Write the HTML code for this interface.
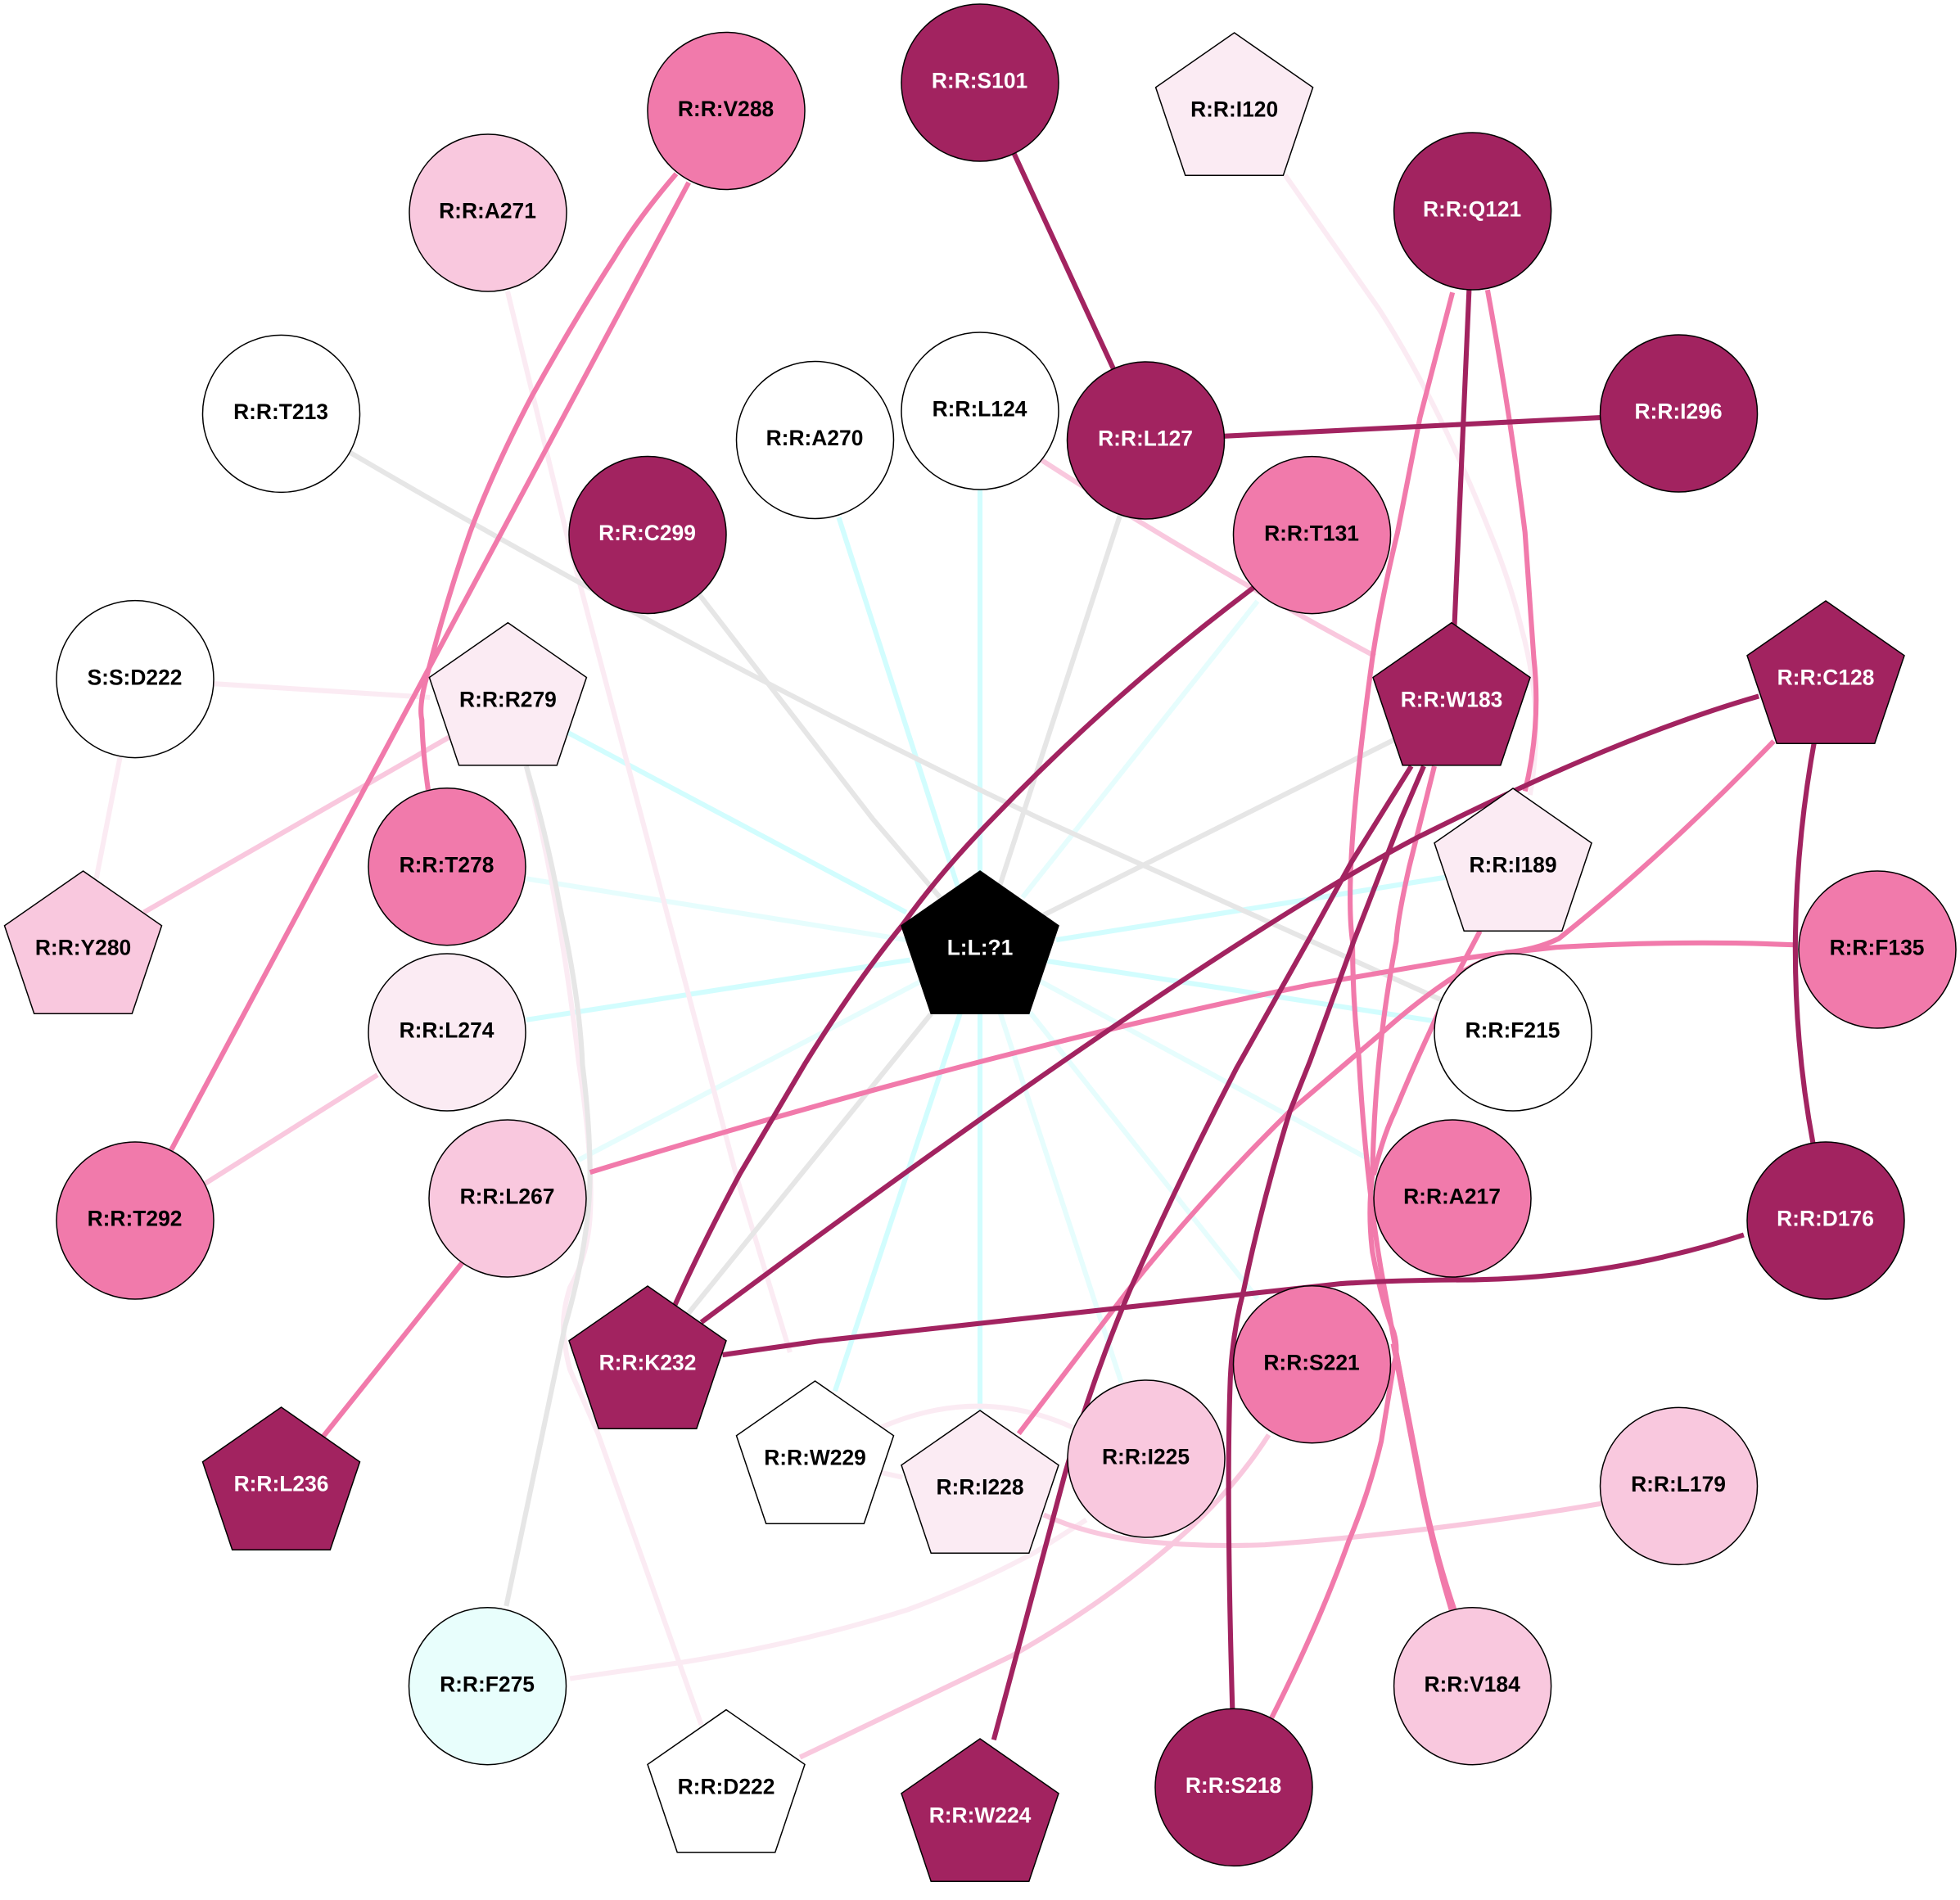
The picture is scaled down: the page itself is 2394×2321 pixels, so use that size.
<!DOCTYPE html>
<html><head><meta charset="utf-8"><style>
html,body{margin:0;padding:0;background:#fff}
svg{display:block}
text{font-family:"Liberation Sans",sans-serif;font-weight:bold;font-size:26.4px;text-anchor:middle;fill:#000}
text.w{fill:#fff}
.n circle,.n polygon{stroke:#000;stroke-width:1.5}
.d{fill:#a22360}.m{fill:#f17aab}.l{fill:#f9c8de}.p{fill:#fbebf3}.o{fill:#fff}.c{fill:#e8fefc}.k{fill:#000}
.e path{fill:none;stroke-width:4;stroke-linejoin:round}
.cy path{stroke:#d2fdfe}.cl path{stroke:#e6fdfd}.gp path{stroke:#fbebf3}.gl path{stroke:#f9c8de}.gg path{stroke:#e6e6e6}.gm path{stroke:#f17aab}.gd path{stroke:#a22360}
</style></head><body>
<svg width="2394" height="2321" viewBox="0 0 2394 2321" xmlns="http://www.w3.org/2000/svg">
<rect width="2394" height="2321" fill="#fff"/>
<g class="e" transform="scale(1.5268)">
<g class="cl">
<path d="M1006,481L818,718"/><path d="M421,703L725,752"/><path d="M463,928L737,785"/><path d="M832,785L1100,930"/><path d="M824,810L1006,1039"/><path d="M800,810L897,1106"/>
</g>
<g class="cy">
<path d="M671,414L767,712"/><path d="M784,392L784,720"/><path d="M454,586L725,730"/><path d="M421,816L728,768"/><path d="M1156,702L845,752"/><path d="M1148,817L838,769"/><path d="M784,810L784,1128"/><path d="M768,811L668,1113"/>
</g>
<g class="gp">
<path d="M171,547L344,558"/><path d="M96,606L77,703"/>
<path d="M1028,140L1103,247Q1150,320 1192,426Q1208,465 1217,502Q1236,570 1224,636"/>
<path d="M406,233L453,426L590,944L632,1082"/>
<path d="M421,613Q448,720 463,850Q475,930 472,974Q470,1005 456,1030Q448,1055 452,1075Q453,1085 456,1096L478,1146L561,1380"/>
<path d="M705,1142Q783,1108 858,1142"/>
<path d="M704,1178L722,1182"/>
<path d="M869,1216L828,1242Q780,1268 726,1288Q640,1315 546,1330L456,1343"/>
</g>
<g class="gl">
<path d="M833,368Q960,450 1100,525"/><path d="M359,590L115,730"/><path d="M302,860L164,947"/>
<path d="M1015,1148Q985,1195 937,1236Q880,1285 809,1325Q725,1365 640,1406"/>
<path d="M1281,1203Q1146,1226 1012,1236Q960,1238 914,1233Q870,1228 835,1212"/>
</g>
<g class="gg">
<path d="M280,362Q430,450 590,534Q710,597 832,655L1153,800"/>
<path d="M555,470L698,655L752,718"/><path d="M900,400L800,708"/><path d="M1115,592L835,732"/><path d="M745,811L540,1064"/>
<path d="M421,613Q438,670 448,726Q464,800 466,852Q472,900 472,939Q472,960 469,982Q464,1020 452,1061L405,1285"/>
</g>
<g class="gm">
<path d="M541,139Q510,175 491,207Q460,255 426,316Q395,375 376,426Q357,480 341,543Q335,565 337.500,576Q338,600 342.500,632"/>
<path d="M551,146L137,920"/>
<path d="M370,1010L258,1150"/>
<path d="M1436,756Q1346,752 1244,758Q1205,762 1170,767L1048,788C900,818 700,868 472,938"/>
<path d="M1419,593Q1330,685 1247,751Q1228,760 1205,762Q1185,768 1164,781Q1135,800 1107,825L1032,889Q960,960 902,1033L815,1147"/>
<path d="M1162,234L1136,334L1118,426Q1105,480 1098,526C1085,620 1076,710 1082,753Q1082,800 1087,845Q1090,900 1096,952Q1100,990 1107,1028L1135,1179Q1145,1235 1161,1288"/>
<path d="M1115,1075L1135,1179Q1145,1235 1163,1288" style="stroke-width:5"/>
<path d="M1147.500,613L1127.500,693Q1118,735 1117,753Q1110,790 1106,823Q1099,880 1098,939Q1094,970 1098,1002Q1105,1040 1115,1066Q1119,1080 1115,1092L1105,1153Q1095,1195 1079,1233Q1055,1300 1017,1375"/>
<path d="M1184,745L1167,777Q1155,800 1144,825Q1130,855 1116,889Q1106,910 1099,940"/>
<path d="M1190,232Q1208,330 1220,426L1227,526Q1233,580 1220,633"/>
</g>
<g class="gd">
<path d="M785,66L917,352"/>
<path d="M917,352L1343,331"/>
<path d="M1178,169L1161,559"/>
<path d="M1452,590Q1421,760 1451,918"/>
<path d="M1003,470Q890,555 794,655Q752,698 722,740Q685,785 644,851L592,939Q562,995 540,1044"/>
<path d="M1407,557C1313,584 1214,630 1134,670C1010,735 800,880 561,1058"/>
<path d="M1395,988Q1290,1022 1179,1024Q1120,1024 1073,1027L655,1073L578,1084"/>
<path d="M1129,613L1081,690L1048,750L989,855Q945,940 904,1032Q875,1100 852,1179Q825,1280 795,1392"/>
<path d="M1139,613L1121,655L1083,753L1048,849L1032,889Q1010,960 995,1032Q985,1070 984,1110Q981,1200 986,1370"/>
</g>
</g>
<g class="n">
<g transform="translate(887,135.5)"><circle r="96" class="m"/><text y="6.7" x="-.5">R:R:V288</text></g>
<g transform="translate(1197,101)"><circle r="96" class="d"/><text y="6.7" x="-.5" class="w">R:R:S101</text></g>
<g transform="translate(596,260)"><circle r="96" class="l"/><text y="6.7" x="-.5">R:R:A271</text></g>
<g transform="translate(1798.6,258)"><circle r="96" class="d"/><text y="6.7" x="-.5" class="w">R:R:Q121</text></g>
<g transform="translate(343.5,505.4)"><circle r="96" class="o"/><text y="6.7" x="-.5">R:R:T213</text></g>
<g transform="translate(995.5,537.5)"><circle r="96" class="o"/><text y="6.7" x="-.5">R:R:A270</text></g>
<g transform="translate(1197,502)"><circle r="96" class="o"/><text y="6.7" x="-.5">R:R:L124</text></g>
<g transform="translate(1399.5,538)"><circle r="96" class="d"/><text y="6.7" x="-.5" class="w">R:R:L127</text></g>
<g transform="translate(2050.5,505)"><circle r="96" class="d"/><text y="6.7" x="-.5" class="w">R:R:I296</text></g>
<g transform="translate(791,653.5)"><circle r="96" class="d"/><text y="6.7" x="-.5" class="w">R:R:C299</text></g>
<g transform="translate(1602.5,653.6)"><circle r="96" class="m"/><text y="6.7" x="-.5">R:R:T131</text></g>
<g transform="translate(165,829.6)"><circle r="96" class="o"/><text y="6.7" x="-.5">S:S:D222</text></g>
<g transform="translate(546,1058.7)"><circle r="96" class="m"/><text y="6.7" x="-.5">R:R:T278</text></g>
<g transform="translate(2293,1160)"><circle r="96" class="m"/><text y="6.7" x="-.5">R:R:F135</text></g>
<g transform="translate(546,1261)"><circle r="96" class="p"/><text y="6.7" x="-.5">R:R:L274</text></g>
<g transform="translate(1848,1261)"><circle r="96" class="o"/><text y="6.7" x="-.5">R:R:F215</text></g>
<g transform="translate(165,1491)"><circle r="96" class="m"/><text y="6.7" x="-.5">R:R:T292</text></g>
<g transform="translate(620,1464)"><circle r="96" class="l"/><text y="6.7" x="-.5">R:R:L267</text></g>
<g transform="translate(1774,1464)"><circle r="96" class="m"/><text y="6.7" x="-.5">R:R:A217</text></g>
<g transform="translate(2230,1491)"><circle r="96" class="d"/><text y="6.7" x="-.5" class="w">R:R:D176</text></g>
<g transform="translate(1602.5,1666.8)"><circle r="96" class="m"/><text y="6.7" x="-.5">R:R:S221</text></g>
<g transform="translate(1400,1782)"><circle r="96" class="l"/><text y="6.7" x="-.5">R:R:I225</text></g>
<g transform="translate(2050.5,1815.4)"><circle r="96" class="l"/><text y="6.7" x="-.5">R:R:L179</text></g>
<g transform="translate(595.5,2059.7)"><circle r="96" class="c"/><text y="6.7" x="-.5">R:R:F275</text></g>
<g transform="translate(1798.6,2059.7)"><circle r="96" class="l"/><text y="6.7" x="-.5">R:R:V184</text></g>
<g transform="translate(1507,2183.4)"><circle r="96" class="d"/><text y="6.7" x="-.5" class="w">R:R:S218</text></g>

<g transform="translate(1507.6,40)"><polygon class="p" points="0,0 96,66.8 59.8,174.2 -59.8,174.2 -96,66.8"/><text y="102.7">R:R:I120</text></g>
<g transform="translate(620.4,760.7)"><polygon class="p" points="0,0 96,66.8 59.8,174.2 -59.8,174.2 -96,66.8"/><text y="102.7">R:R:R279</text></g>
<g transform="translate(1773,760.7)"><polygon class="d" points="0,0 96,66.8 59.8,174.2 -59.8,174.2 -96,66.8"/><text y="102.7" class="w">R:R:W183</text></g>
<g transform="translate(2230,734)"><polygon class="d" points="0,0 96,66.8 59.8,174.2 -59.8,174.2 -96,66.8"/><text y="102.7" class="w">R:R:C128</text></g>
<g transform="translate(1848,963)"><polygon class="p" points="0,0 96,66.8 59.8,174.2 -59.8,174.2 -96,66.8"/><text y="102.7">R:R:I189</text></g>
<g transform="translate(101.5,1064)"><polygon class="l" points="0,0 96,66.8 59.8,174.2 -59.8,174.2 -96,66.8"/><text y="102.7">R:R:Y280</text></g>
<g transform="translate(1197,1064)"><polygon class="k" points="0,0 96,66.8 59.8,174.2 -59.8,174.2 -96,66.8"/><text y="102.7" class="w">L:L:?1</text></g>
<g transform="translate(791,1571)"><polygon class="d" points="0,0 96,66.8 59.8,174.2 -59.8,174.2 -96,66.8"/><text y="102.7" class="w">R:R:K232</text></g>
<g transform="translate(995.5,1687)"><polygon class="o" points="0,0 96,66.8 59.8,174.2 -59.8,174.2 -96,66.8"/><text y="102.7">R:R:W229</text></g>
<g transform="translate(343.5,1719)"><polygon class="d" points="0,0 96,66.8 59.8,174.2 -59.8,174.2 -96,66.8"/><text y="102.7" class="w">R:R:L236</text></g>
<g transform="translate(1197,1723)"><polygon class="p" points="0,0 96,66.8 59.8,174.2 -59.8,174.2 -96,66.8"/><text y="102.7">R:R:I228</text></g>
<g transform="translate(887,2088.6)"><polygon class="o" points="0,0 96,66.8 59.8,174.2 -59.8,174.2 -96,66.8"/><text y="102.7">R:R:D222</text></g>
<g transform="translate(1197,2124)"><polygon class="d" points="0,0 96,66.8 59.8,174.2 -59.8,174.2 -96,66.8"/><text y="102.7" class="w">R:R:W224</text></g>
</g>
</svg>
</body></html>
